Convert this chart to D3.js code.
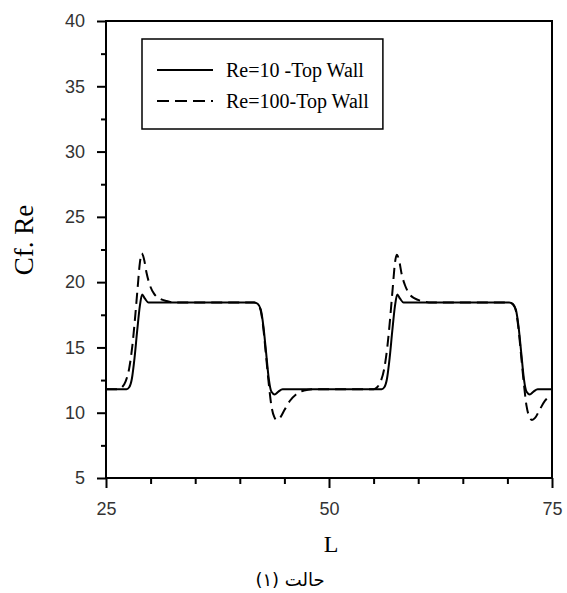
<!DOCTYPE html>
<html>
<head>
<meta charset="utf-8">
<script src="https://cdn.jsdelivr.net/npm/d3@7"></script>
<style>
  html, body { margin: 0; padding: 0; background: #fff; }
  svg { display: block; }
</style>
</head>
<body>
<svg id="chart" width="567" height="593"></svg>
<script>
// Skin-friction coefficient along the channel, top wall, two Reynolds numbers
const lRe10 = [25, 27.3, 27.6, 27.9, 28.2, 28.5, 28.8, 29.05, 29.35, 29.75,
  41.6, 42.0, 42.35, 42.65, 42.95, 43.25, 43.55, 43.9, 44.3, 44.8,
  55.9, 56.2, 56.5, 56.8, 57.1, 57.4, 57.65, 57.95, 58.35,
  70.2, 70.6, 70.95, 71.25, 71.55, 71.85, 72.15, 72.5, 72.9, 73.4, 75];
const cfRe10 = [11.8, 11.8, 11.95, 12.6, 14.2, 16.3, 18.2, 19.05, 18.75, 18.45,
  18.45, 18.35, 17.9, 16.6, 14.6, 12.6, 11.6, 11.4, 11.6, 11.8,
  11.8, 11.95, 12.6, 14.2, 16.3, 18.2, 19.05, 18.75, 18.45,
  18.45, 18.35, 17.9, 16.6, 14.6, 12.6, 11.6, 11.4, 11.6, 11.8, 11.8];

const lRe100 = [25, 26.4, 26.8, 27.2, 27.6, 27.95, 28.25, 28.55, 28.8, 29.0,
  29.25, 29.55, 29.9, 30.4, 31.0, 31.8, 32.6,
  41.6, 42.0, 42.35, 42.65, 42.95, 43.25, 43.55, 43.85, 44.15, 44.5,
  45.0, 45.6, 46.3, 47.2, 48.3,
  55.0, 55.4, 55.8, 56.2, 56.55, 56.85, 57.15, 57.4, 57.6,
  57.85, 58.15, 58.5, 59.0, 59.6, 60.4, 61.2,
  70.2, 70.6, 70.95, 71.25, 71.55, 71.85, 72.15, 72.45, 72.75, 73.1,
  73.6, 74.2, 75];
const cfRe100 = [11.8, 11.8, 11.95, 12.4, 13.4, 15.1, 17.2, 19.6, 21.5, 22.2,
  21.8, 20.7, 19.8, 19.1, 18.75, 18.55, 18.45,
  18.45, 18.3, 17.8, 16.4, 14.3, 12.2, 10.5, 9.7, 9.45, 9.6,
  10.2, 10.9, 11.4, 11.7, 11.8,
  11.8, 11.95, 12.4, 13.4, 15.1, 17.2, 19.6, 21.5, 22.1,
  21.7, 20.6, 19.8, 19.1, 18.75, 18.55, 18.45,
  18.45, 18.3, 17.8, 16.4, 14.3, 12.2, 10.5, 9.7, 9.45, 9.6,
  10.2, 10.9, 11.35];

const xMajor = [25, 50, 75];
const xMinor = [30, 35, 40, 45, 55, 60, 65, 70];
const yMajor = [5, 10, 15, 20, 25, 30, 35, 40];
const yMinor = [7.5, 12.5, 17.5, 22.5, 27.5, 32.5, 37.5];

const seriesNames = ["Re=10 -Top Wall", "Re=100-Top Wall"];
const xTitle = "L";
const yTitle = "Cf. Re";
const caption = "حالت (۱)";

const svg = d3.select("#chart");
const plotLeft = 106, plotRight = 552, plotTop = 21, plotBottom = 478;

const x = d3.scaleLinear().domain([25, 75]).range([plotLeft, plotRight]);
const y = d3.scaleLinear().domain([5, 40]).range([plotBottom, plotTop]);

// curves
const line = d3.line().x(d => x(d[0])).y(d => y(d[1])).curve(d3.curveMonotoneX);
const re10 = lRe10.map((v, i) => [v, cfRe10[i]]);
const re100 = lRe100.map((v, i) => [v, cfRe100[i]]);

svg.append("path").datum(re100)
  .attr("d", line).attr("fill", "none").attr("stroke", "#000")
  .attr("stroke-width", 2).attr("stroke-dasharray", "11,6");
svg.append("path").datum(re10)
  .attr("d", line).attr("fill", "none").attr("stroke", "#000")
  .attr("stroke-width", 2);

// frame
svg.append("rect").attr("x", plotLeft).attr("y", plotTop)
  .attr("width", plotRight - plotLeft).attr("height", plotBottom - plotTop)
  .attr("fill", "none").attr("stroke", "#000").attr("stroke-width", 2);

// left axis
const yAxisMajor = d3.axisLeft(y).tickValues(yMajor).tickSize(9).tickPadding(12).tickFormat(d3.format("d"));
const yAxisMinor = d3.axisLeft(y).tickValues(yMinor).tickSize(5).tickFormat("");
const gy = svg.append("g").attr("transform", `translate(${plotLeft},0)`).call(yAxisMajor);
const gy2 = svg.append("g").attr("transform", `translate(${plotLeft},0)`).call(yAxisMinor);

// bottom axis
const xAxisMajor = d3.axisBottom(x).tickValues(xMajor).tickSize(10).tickPadding(14).tickFormat(d3.format("d"));
const xAxisMinor = d3.axisBottom(x).tickValues(xMinor).tickSize(6).tickFormat("");
const gx = svg.append("g").attr("transform", `translate(0,${plotBottom})`).call(xAxisMajor);
const gx2 = svg.append("g").attr("transform", `translate(0,${plotBottom})`).call(xAxisMinor);

[gy, gy2, gx, gx2].forEach(g => {
  g.select(".domain").remove();
  g.selectAll(".tick line").attr("stroke", "#000").attr("stroke-width", 2);
  g.selectAll(".tick text")
    .attr("font-family", "Liberation Sans, Arial, sans-serif")
    .attr("font-size", 18).attr("fill", "#333");
});

// axis titles
svg.append("text").attr("x", 331).attr("y", 552)
  .attr("text-anchor", "middle")
  .attr("font-family", "Liberation Serif, Times New Roman, serif")
  .attr("font-size", 24).text(xTitle);

svg.append("text").attr("transform", "translate(33,240) rotate(-90)")
  .attr("text-anchor", "middle")
  .attr("font-family", "Liberation Serif, Times New Roman, serif")
  .attr("font-size", 27).text(yTitle);

svg.append("text").attr("x", 290).attr("y", 586)
  .attr("text-anchor", "middle").attr("direction", "rtl")
  .attr("font-family", "DejaVu Sans, sans-serif")
  .attr("font-size", 18).text(caption);

// legend
const lg = svg.append("g");
const legendBox = lg.append("rect").attr("x", 142).attr("y", 39)
  .attr("height", 90).attr("fill", "#fff")
  .attr("stroke", "#000").attr("stroke-width", 1.5);
const rowsY = [70, 101];
let textEnd = 0;
seriesNames.forEach((name, i) => {
  lg.append("line").attr("x1", 157).attr("x2", 213)
    .attr("y1", rowsY[i]).attr("y2", rowsY[i])
    .attr("stroke", "#000").attr("stroke-width", 2.2)
    .attr("stroke-dasharray", i === 1 ? "12,6" : null);
  const t = lg.append("text").attr("x", 226).attr("y", rowsY[i] + 7)
    .attr("font-family", "Liberation Serif, Times New Roman, serif")
    .attr("font-size", 20).text(name);
  textEnd = Math.max(textEnd, 226 + t.node().getComputedTextLength());
});
legendBox.attr("width", textEnd + 14 - 142);
</script>
</body>
</html>
